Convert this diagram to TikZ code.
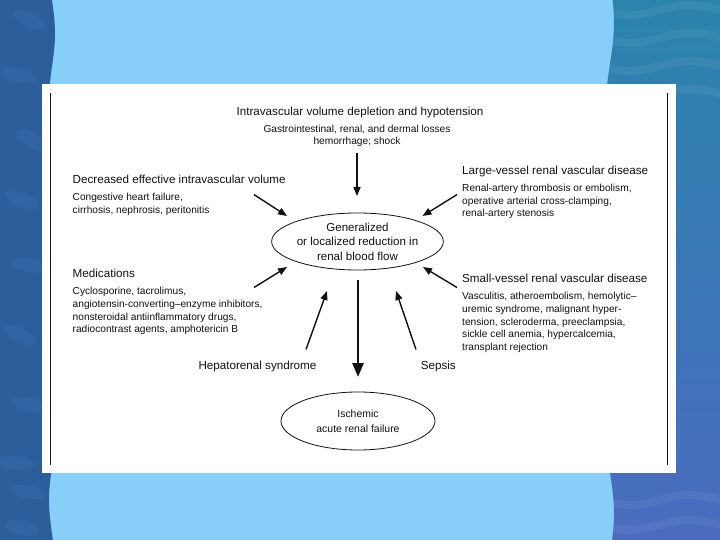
\documentclass[tikz,border=0pt]{standalone}
\usepackage{fontspec}
\setmainfont{Liberation Sans}
\usetikzlibrary{arrows.meta,shapes.geometric}
\definecolor{bgmid}{HTML}{87CEF8}
\definecolor{bgleft}{HTML}{2C5E9C}
\definecolor{bgleftlight}{HTML}{3E74B2}
\definecolor{bgrtop}{HTML}{2A84AC}
\definecolor{bgrbot}{HTML}{4A6BBF}
\definecolor{ink}{HTML}{111111}
\begin{document}
\begin{tikzpicture}[x=1bp,y=-1bp,
  head/.style={font=\fontsize{11.7}{14.5}\selectfont, inner sep=0pt, text=ink},
  body/.style={font=\fontsize{10.2}{12.7}\selectfont, inner sep=0pt, align=left, text=ink},
  arr/.style={line width=1.4bp, draw=ink, -{Triangle[length=9bp,width=7bp]}},
  bigarr/.style={line width=2.6bp, draw=ink, -{Triangle[length=14bp,width=11bp]}},
  oval/.style={draw=ink, ellipse, line width=0.8bp, inner sep=0pt, align=center, text=ink}]
\useasboundingbox (0,0) rectangle (720,540);
% background
\fill[bgmid] (0,0) rectangle (720,540);
\fill[bgleft] (0,0) -- plot[domain=0:540, samples=80] ({52+3*sin(\x*2.7)}, \x) -- (0,540) -- cycle;
\begin{scope}
\clip (0,0) -- plot[domain=0:540, samples=80] ({52+3*sin(\x*2.7)}, \x) -- (0,540) -- cycle;
\foreach \yy/\xx/\rr in {20/30/-25,75/18/-15,140/32/-30,200/22/-20,265/28/-10,335/20/-25,405/30/-15,463/16/-5,492/28/-10,528/22/-15}{
  \fill[bgleftlight, opacity=0.28, rotate around={\rr:(\xx,\yy)}] (\xx,\yy) ellipse (18 and 7);
}
\end{scope}
\shade[top color=bgrtop, bottom color=bgrbot] (720,0) -- plot[domain=0:540, samples=80] ({610+4*sin(\x*2.2+40)}, \x) -- (720,540) -- cycle;
\begin{scope}
\clip (720,0) -- plot[domain=0:540, samples=80] ({610+4*sin(\x*2.2+40)}, \x) -- (720,540) -- cycle;
\foreach \yy in {10,38,66,94,500,525}{
  \draw[white, opacity=0.06, line width=8bp] plot[domain=600:720, samples=40] (\x, {\yy+5*sin(\x*3)});
}
\end{scope}
% white panel
\fill[white] (42,84) rectangle (676,473);
\draw[ink, line width=1bp] (50.5,93) -- (50.5,465);
\draw[ink, line width=1bp] (667.5,93) -- (667.5,465);
% texts
\node[head, anchor=north] (t1) at (360,106.8) {Intravascular volume depletion and hypotension};
\node[body, anchor=north, align=center] (t1d) at (357,124.7) {Gastrointestinal, renal, and dermal losses\\hemorrhage; shock};
\node[head, anchor=north west] (t2) at (72.5,174.8) {Decreased effective intravascular volume};
\node[body, anchor=north west] (t2d) at (72.5,192.8) {Congestive heart failure,\\cirrhosis, nephrosis, peritonitis};
\node[head, anchor=north west] (t3) at (462,165.6) {Large-vessel renal vascular disease};
\node[body, anchor=north west] (t3d) at (462,183.9) {Renal-artery thrombosis or embolism,\\operative arterial cross-clamping,\\renal-artery stenosis};
\node[head, anchor=north west] (t4) at (72.5,268.5) {Medications};
\node[body, anchor=north west] (t4d) at (72.5,287.2) {Cyclosporine, tacrolimus,\\angiotensin-converting–enzyme inhibitors,\\nonsteroidal antiinflammatory drugs,\\radiocontrast agents, amphotericin B};
\node[head, anchor=north west] (t5) at (462,273.8) {Small-vessel renal vascular disease};
\node[body, anchor=north west] (t5d) at (462,292.2) {Vasculitis, atheroembolism, hemolytic–\\uremic syndrome, malignant hyper-\\tension, scleroderma, preeclampsia,\\sickle cell anemia, hypercalcemia,\\transplant rejection};
\node[head, anchor=north west] (t6) at (198.3,360.8) {Hepatorenal syndrome};
\node[head, anchor=north west] (t7) at (420.6,360.8) {Sepsis};
% ovals
\node[oval, minimum width=155bp, minimum height=57bp, font=\fontsize{11.6}{14.5}\selectfont] (gen) at (357.5,241.5) {Generalized\\or localized reduction in\\renal blood flow};
\node[oval, minimum width=154bp, minimum height=58bp, font=\fontsize{10.5}{15.5}\selectfont] (isch) at (358,421) {Ischemic\\acute renal failure};
% arrow ends
\coordinate (a1s) at (357,153);   \coordinate (a1e) at (357,196);
\coordinate (a2s) at (254,194.6); \coordinate (a2e) at (287,216);
\coordinate (a3s) at (457,194.6); \coordinate (a3e) at (422.5,216);
\coordinate (a4s) at (254,287.5); \coordinate (a4e) at (287,267);
\coordinate (a5s) at (457,287.5); \coordinate (a5e) at (423,267);
\coordinate (a6s) at (306,349.5); \coordinate (a6e) at (327,291);
\coordinate (a7s) at (416,349.5); \coordinate (a7e) at (396,291);
\coordinate (a8s) at (358,280);   \coordinate (a8e) at (358,377);
\draw[arr] (a1s) -- (a1e);
\draw[arr] (a2s) -- (a2e);
\draw[arr] (a3s) -- (a3e);
\draw[arr] (a4s) -- (a4e);
\draw[arr] (a5s) -- (a5e);
\draw[arr] (a6s) -- (a6e);
\draw[arr] (a7s) -- (a7e);
\draw[bigarr] (a8s) -- (a8e);
\end{tikzpicture}
\end{document}
